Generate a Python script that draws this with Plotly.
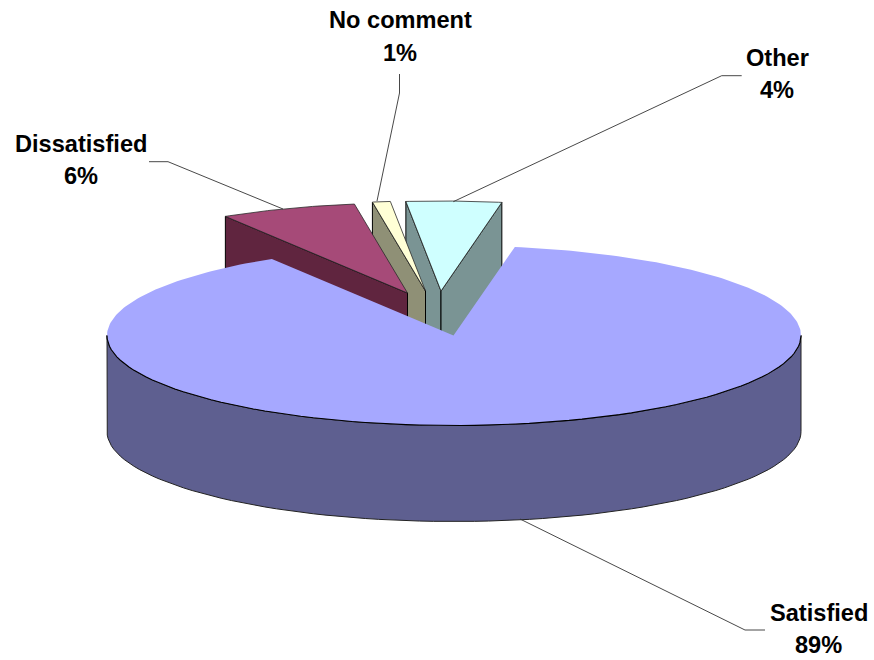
import numpy as np
import plotly.graph_objects as go

# Data
categories = ["Satisfied", "Dissatisfied", "No comment", "Other"]
pct_labels = [89, 6, 1, 4]
# Slice shares as drawn (the 3-D projection widens the small slices a little)
drawn_shares = [88.4, 6.35, 0.83, 4.42]

# Styling and geometry
top_colors = ["#A6A8FF", "#A64A78", "#FFFFD6", "#CFFFFF"]
wall_colors = ["#5E5F90", "#60253F", "#8F9076", "#7A9494"]
START_DEG = 10.1
CX, CY, RX, RY, DEPTH = 454.0, 335.5, 347.0, 90.0, 96.0
APEX_MAIN = (453.5, 335.5)
APEX = {"Dissatisfied": (407.5, 293.0), "No comment": (425.5, 291.0), "Other": (441.0, 291.0)}
LEADERS = {
    "Satisfied": ([765, 745, 520], [630, 630, 519]),
    "Dissatisfied": ([149, 168, 283], [161.7, 161.7, 209]),
    "No comment": ([399.5, 399.5, 377], [74, 93, 201]),
    "Other": ([741.7, 721.7, 453.3], [75.7, 75.7, 201.7]),
}
LABEL_POS = {
    "Satisfied": (818.7, 621, 653),
    "Dissatisfied": (80.5, 152, 184),
    "No comment": (400, 28, 61),
    "Other": (777, 66, 98),
}
FONT = dict(family="Liberation Sans, Arial, sans-serif", size=23.6, color="black")


def rim(a0, a1, apex=None, n=80):
    """Points on the projected rim; angles are clockwise from the top, in degrees."""
    t = np.radians(np.linspace(a0, a1, n))
    ox, oy = apex if apex else (CX, CY)
    return ox + RX * np.sin(t), oy - RY * np.cos(t)


def poly(fig, x, y, fill, line_color=None, width=1.0):
    fig.add_trace(go.Scatter(
        x=list(x), y=list(y), mode="lines", fill="toself", fillcolor=fill,
        line=dict(color=line_color or fill, width=width if line_color else 0),
        hoverinfo="skip", showlegend=False))


def stroke(fig, x, y, color="#000000", width=1.0):
    fig.add_trace(go.Scatter(x=list(x), y=list(y), mode="lines",
                             line=dict(color=color, width=width),
                             hoverinfo="skip", showlegend=False))


# Slice angles (clockwise from START_DEG), from the shares
sweeps = 360.0 * np.array(drawn_shares) / sum(drawn_shares)
edges = START_DEG + np.concatenate([[0], np.cumsum(sweeps)])
spans = {c: (edges[i], edges[i + 1]) for i, c in enumerate(categories)}

fig = go.Figure()

# Exploded slices, back to front: Other, No comment, Dissatisfied
for name in ["Other", "No comment", "Dissatisfied"]:
    i = categories.index(name)
    a0, a1 = spans[name]
    ax, ay = APEX[name]
    rx, ry = rim(a0, a1, apex=(ax, ay), n=30)
    # left radial wall (faces the viewer for all three)
    poly(fig, [rx[0], ax, ax, rx[0], rx[0]],
         [ry[0], ay, ay + DEPTH, ry[0] + DEPTH, ry[0]], wall_colors[i], "#000000", 1)
    # right radial wall (only visible when the edge points right of the top)
    if a1 % 360 < 90:
        poly(fig, [rx[-1], ax, ax, rx[-1], rx[-1]],
             [ry[-1], ay, ay + DEPTH, ry[-1] + DEPTH, ry[-1]], wall_colors[i], "#000000", 1)
    poly(fig, [ax, *rx, ax], [ay, *ry, ay], top_colors[i], "#2a2a2a", 0.8)

# Main slice: the side, then the top
a0, a1 = spans["Satisfied"]
sx, sy = rim(90, 270)
poly(fig, [*sx, *sx[::-1], sx[0]], [*sy, *(sy[::-1] + DEPTH), sy[0]], wall_colors[0], "#222222", 1)
tx, ty = rim(a0, a1, n=300)
poly(fig, [APEX_MAIN[0], *tx, APEX_MAIN[0]], [APEX_MAIN[1], *ty, APEX_MAIN[1]], top_colors[0])
stroke(fig, sx, sy, "#000000", 1.1)

# Leader lines and labels
for name in categories:
    lx, ly = LEADERS[name]
    stroke(fig, lx, ly, "#333333", 0.9)

annotations = []
for name, pct in zip(categories, pct_labels):
    x, base1, base2 = LABEL_POS[name]
    for text, base in ((name, base1), (f"{pct}%", base2)):
        annotations.append(dict(
            x=x, y=base, xref="x", yref="y", text=f"<b>{text}</b>", showarrow=False,
            xanchor="center", yanchor="bottom", yshift=-7, font=FONT))

fig.update_layout(
    width=874, height=660, autosize=False,
    margin=dict(l=0, r=0, t=0, b=0),
    paper_bgcolor="white", plot_bgcolor="white",
    showlegend=False, annotations=annotations,
    xaxis=dict(range=[0, 874], visible=False, fixedrange=True),
    yaxis=dict(range=[660, 0], visible=False, fixedrange=True),
)

fig.write_html(
    "out.html",
    config=dict(displayModeBar=False),
    post_script="document.body.style.margin='0';document.body.style.overflow='hidden';",
)
